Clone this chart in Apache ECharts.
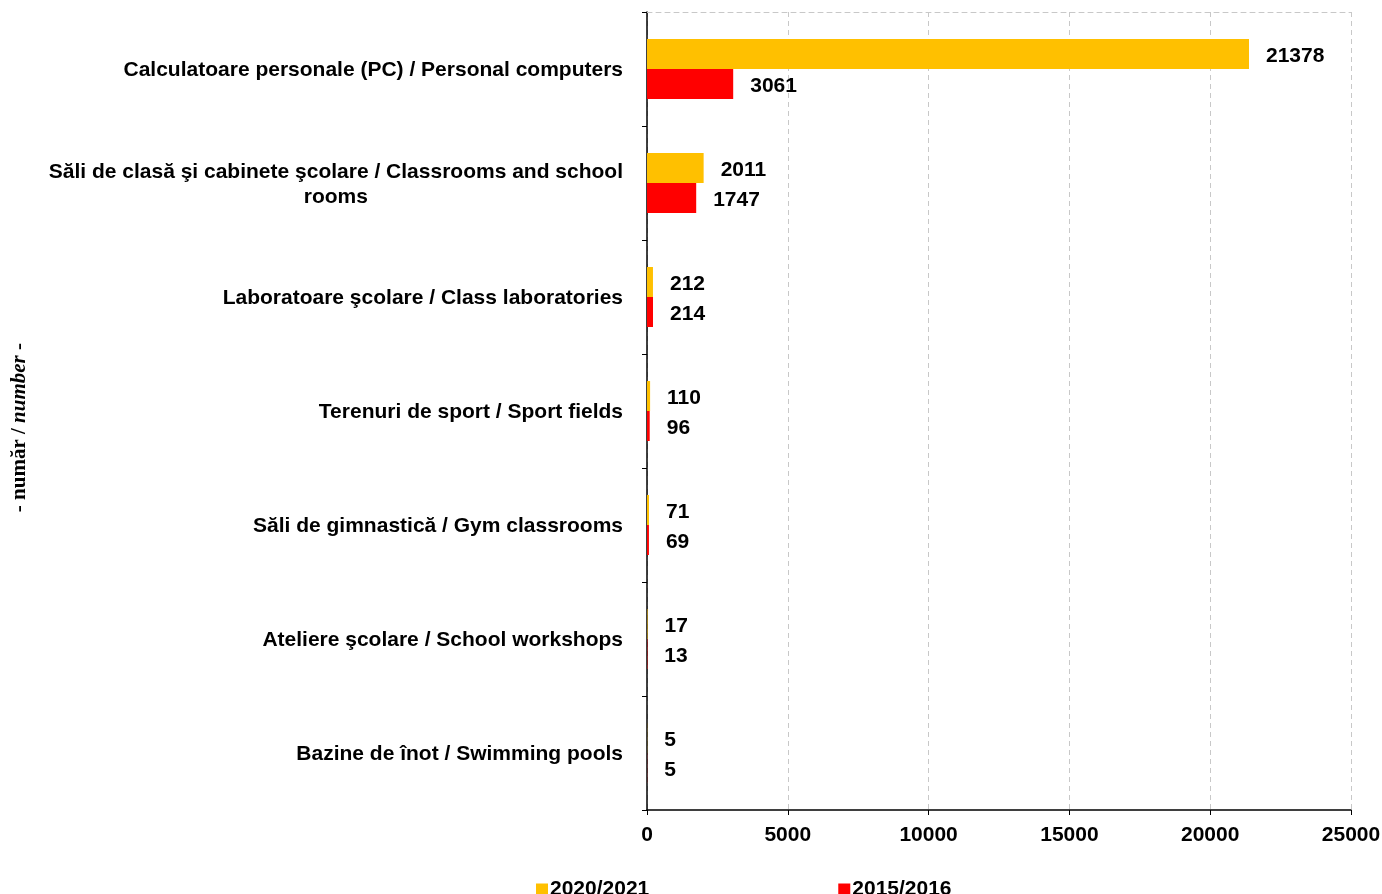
<!DOCTYPE html>
<html>
<head>
<meta charset="utf-8">
<script src="https://cdn.jsdelivr.net/npm/echarts@6/dist/echarts.min.js"></script>
<style>html,body{margin:0;padding:0;background:#fff;}#c{width:1382px;height:894px;}</style>
</head>
<body>
<div id="c"></div>
<script>
const categories = [
  'Calculatoare personale (PC) / Personal computers',
  'Săli de clasă şi cabinete şcolare / Classrooms and school\nrooms',
  'Laboratoare şcolare / Class laboratories',
  'Terenuri de sport / Sport fields',
  'Săli de gimnastică / Gym classrooms',
  'Ateliere şcolare / School workshops',
  'Bazine de înot / Swimming pools'
];
const seriesNames = ['2020/2021', '2015/2016'];
const values2020 = [21378, 2011, 212, 110, 71, 17, 5];
const values2015 = [3061, 1747, 214, 96, 69, 13, 5];
const xTicks = [0, 5000, 10000, 15000, 20000, 25000];

const FONT = 'Liberation Sans, Arial, sans-serif';
const chart = echarts.init(document.getElementById('c'));
const labelStyle = {show: true, position: 'right', distance: 17, offset: [0, 2], color: '#000', fontWeight: 'bold', fontSize: 21, fontFamily: FONT};
chart.setOption({
  animation: false,
  grid: {left: 647, right: 31, top: 12, bottom: 84, containLabel: false, outerBoundsMode: 'none'},
  legend: {
    data: seriesNames, left: 531, top: 874, icon: 'rect', itemWidth: 12, itemHeight: 12, itemGap: 189,
    textStyle: {fontWeight: 'bold', fontSize: 21, fontFamily: FONT, color: '#000', padding: [0,0,0,-3]}
  },
  xAxis: [{
    type: 'value', min: xTicks[0], max: xTicks[xTicks.length-1], interval: 5000,
    axisLine: {show: true, lineStyle: {color: '#000', width: 1.5}},
    axisTick: {show: true, length: 5, lineStyle: {color: '#000'}},
    axisLabel: {color: '#000', fontWeight: 'bold', fontSize: 21, fontFamily: FONT, margin: 15,
      formatter: function (v) { return String(v); }},
    splitLine: {show: true, lineStyle: {color: '#c8c8c8', type: [5, 4], width: 1}}
  }, {
    type: 'value', position: 'top', min: 0, max: 25000,
    axisLine: {show: true, lineStyle: {color: '#c8c8c8', type: [5, 4], width: 1}},
    axisTick: {show: false}, axisLabel: {show: false}, splitLine: {show: false}
  }],
  yAxis: {
    type: 'category', data: categories, inverse: true,
    axisLine: {show: true, lineStyle: {color: '#000', width: 1.5}},
    axisTick: {show: true, length: 5, inside: false, lineStyle: {color: '#000'}},
    axisLabel: {
      color: '#000', fontWeight: 'bold', fontSize: 21, fontFamily: FONT, margin: 24, lineHeight: 25,
      padding: [3, 0, 0, 0],
      formatter: function (v) {
        const parts = v.split('\n');
        if (parts.length > 1) return '{a|' + parts[0] + '}\n{c|' + parts[1] + '}';
        return v;
      },
      rich: {
        a: {fontWeight: 'bold', fontSize: 21, fontFamily: FONT, color: '#000', lineHeight: 25, align: 'right'},
        c: {fontWeight: 'bold', fontSize: 21, fontFamily: FONT, color: '#000', lineHeight: 25, align: 'center'}
      }
    }
  },
  series: [{
    name: seriesNames[0], type: 'bar', data: values2020, barWidth: 30, barGap: '0%',
    itemStyle: {color: '#FFC000'}, label: labelStyle
  }, {
    name: seriesNames[1], type: 'bar', data: values2015, barWidth: 30, barGap: '0%',
    itemStyle: {color: '#FF0000'}, label: labelStyle
  }],
  graphic: [{
    type: 'text', left: 9, top: 343, rotation: Math.PI / 2,
    style: {
      text: '{b|- număr / }{i|number}{b| -}',
      rich: {
        b: {fontFamily: 'Liberation Serif, Times New Roman, serif', fontWeight: 'bold', fontSize: 21, fill: '#000'},
        i: {fontFamily: 'Liberation Serif, Times New Roman, serif', fontWeight: 'bold', fontStyle: 'italic', fontSize: 21, fill: '#000'}
      }
    }
  }]
});
</script>
</body>
</html>
